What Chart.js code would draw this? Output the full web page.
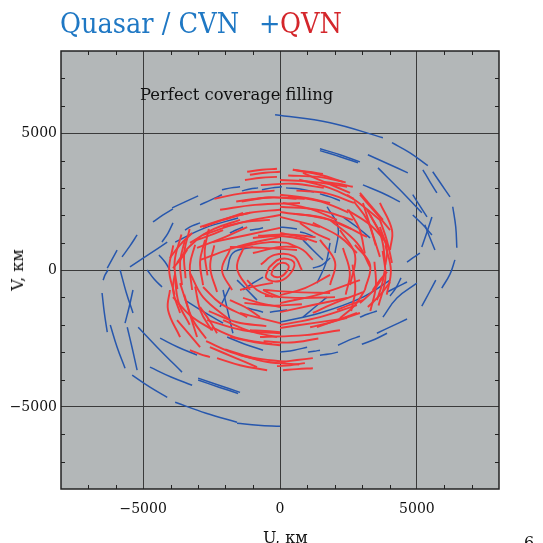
<!DOCTYPE html>
<html><head><meta charset="utf-8">
<script src="https://cdn.jsdelivr.net/npm/chart.js@4.4.0/dist/chart.umd.min.js"></script>
<style>
html,body{margin:0;padding:0;background:#fff;}
#wrap{position:relative;width:543px;height:543px;overflow:hidden;font-family:"DejaVu Serif",serif;}
canvas{position:absolute;left:0;top:0;}
.t{position:absolute;white-space:nowrap;line-height:1;}
.ttl{font-size:27px;transform:scaleX(0.95);transform-origin:0 0;}
</style></head><body>
<div id="wrap">
<canvas id="c" width="543" height="543"></canvas>
<div class="t ttl" style="left:60px;top:10px;color:#1f78c4">Quasar / CVN</div>
<div class="t ttl" style="left:259px;top:10px;color:#1f78c4">+</div>
<div class="t ttl" style="left:280px;top:10px;color:#d4262b">QVN</div>
<div class="t" style="left:140px;top:87px;font-size:16.4px;color:#111">Perfect coverage filling</div>
<div class="t" style="left:263px;top:530px;font-size:16px;color:#111">U, км</div>
<div class="t" style="left:18px;top:270px;font-size:16px;color:#111;transform:translate(-50%,-50%) rotate(-90deg)">V, км</div>
<div class="t" style="left:524px;top:535px;font-size:16px;color:#111">6</div>
</div>
<script>
// Axis ticks (km)
const majorTicks = [-5000, 0, 5000];
const majorLabels = ['\u22125000', '0', '5000'];
const minorTicks = [-7000,-6000,-4000,-3000,-2000,-1000,1000,2000,3000,4000,6000,7000];
const axisMin = -8000, axisMax = 8000;

// Quasar / CVN baselines (U, V in km)
const blueArcs = [
[[-180,5670],[1830,5380],[3760,4830]],
[[4090,4650],[4750,4280],[5400,3810]],
[[5580,3590],[5880,3150],[6210,2670]],
[[5220,3660],[5480,3220],[5730,2820]],
[[6310,2310],[6420,1570],[6460,810]],
[[6390,370],[6210,-150],[5910,-660]],
[[5690,-370],[5440,-840],[5180,-1320]],
[[3210,4210],[3940,3880],[4670,3550]],
[[1460,4430],[2190,4210],[2920,3950]],
[[1460,4360],[2190,4140],[2850,3920]],
[[3580,3730],[4380,2930],[5180,2090]],
[[3030,3110],[3720,2820],[4380,2490]],
[[4850,2750],[5110,2340],[5370,1940]],
[[4850,2010],[5220,1650],[5550,1280]],
[[5550,1940],[5370,1390],[5180,840]],
[[5290,1650],[5480,1170],[5660,730]],
[[5110,620],[4850,440],[4640,290]],
[[3760,-1720],[4270,-1020],[5000,-480]],
[[3910,-810],[4270,-620],[4640,-440]],
[[4020,-950],[4230,-660],[4420,-290]],
[[3540,-2310],[4090,-2050],[4640,-1790]],
[[2990,-2710],[3470,-2530],[3910,-2310]],
[[2120,-2750],[2520,-2560],[2920,-2420]],
[[2920,-1720],[3210,-1610],[3540,-1500]],
[[0,-3000],[510,-2930],[990,-2820]],
[[1020,-3000],[1240,-2970],[1460,-2930]],
[[1460,-3110],[1790,-3070],[2120,-3000]],
[[-2120,2930],[-1790,3000],[-1460,3040]],
[[-1390,2890],[-1100,2960],[-800,3000]],
[[-660,2930],[-290,3000],[70,3040]],
[[220,3000],[730,2960],[1240,2850]],
[[1460,2780],[1830,2670],[2190,2530]],
[[2300,1940],[2810,1570],[3290,1170]],
[[1720,2310],[2120,1570],[2010,620]],
[[1830,440],[1530,180],[1200,70]],
[[0,1570],[290,1540],[620,1500]],
[[730,1390],[990,1320],[1240,1210]],
[[-1830,1350],[-1600,1460],[-1350,1570]],
[[-1100,1460],[-800,1500],[-620,1540]],
[[840,1100],[1200,730],[1570,370]],
[[1830,990],[1680,260],[1350,-480]],
[[1720,-990],[1280,-1350],[840,-1720]],
[[-1200,-1390],[-910,-1460],[-620,-1540]],
[[-370,-1540],[-70,-1500],[260,-1460]],
[[-1930,0],[-1720,620],[-990,840]],
[[-1830,-620],[-2010,-990],[-2190,-1350]],
[[-4640,1760],[-4270,2010],[-3910,2230]],
[[-3940,2270],[-3470,2490],[-2990,2710]],
[[-2920,2380],[-2520,2560],[-2120,2750]],
[[-3470,1460],[-3210,1610],[-2920,1720]],
[[-3910,1720],[-4090,1350],[-4310,1020]],
[[-5220,1280],[-5480,880],[-5770,480]],
[[-5950,730],[-6130,400],[-6310,70]],
[[-5480,110],[-4820,550],[-4120,1020]],
[[-3830,1020],[-2740,1540],[-1530,1900]],
[[-4420,550],[-4200,290],[-4020,0]],
[[-6500,-840],[-6420,-1540],[-6310,-2270]],
[[-6200,-2010],[-5950,-2820],[-5660,-3590]],
[[-5840,0],[-5620,-810],[-5370,-1570]],
[[-5370,-730],[-5510,-1350],[-5660,-1940]],
[[-5580,-2090],[-5400,-2850],[-5220,-3660]],
[[-5400,-3840],[-4750,-4280],[-4120,-4650]],
[[-5180,-2090],[-4380,-2930],[-3580,-3730]],
[[-4750,-3550],[-3980,-3910],[-3210,-4210]],
[[-4380,-2490],[-3720,-2820],[-3030,-3110]],
[[-2990,-3950],[-2230,-4210],[-1460,-4470]],
[[-2990,-4020],[-2230,-4280],[-1530,-4510]],
[[-3830,-4830],[-2700,-5230],[-1570,-5560]],
[[-1570,-5600],[-800,-5670],[0,-5710]],
[[-3470,-1100],[-2770,-1540],[-2080,-1940]],
[[-1930,-2450],[-1280,-2710],[-620,-2930]],
[[-2080,-730],[-1900,-1540],[-1720,-2310]],
[[-620,-260],[-990,-480],[-1350,-730]],
[[-4850,0],[-4600,-330],[-4310,-620]],
[[-6460,-370],[-6390,-180],[-6280,0]],
[[0,-1900],[1460,-1570],[3030,-990],[4020,-370]],
[[-840,-1100],[-1200,-730],[-1570,-370]]
];

// QVN baselines (U, V in km)
const redArcs = [
[[-1200,3590],[-660,3660],[-110,3700]],
[[-1280,3290],[-690,3370],[-110,3400]],
[[-1100,3480],[-550,3550],[0,3590]],
[[470,3660],[1020,3590],[1570,3510]],
[[0,3290],[1200,3220],[2450,3040]],
[[1570,3220],[2120,3150],[2660,3040]],
[[2450,2750],[3030,2340],[3650,1830]],
[[2920,2750],[3470,2120],[4020,1460]],
[[3180,2200],[3610,1460],[4020,730]],
[[3650,1830],[3910,1060],[4090,260]],
[[-2080,1830],[-1100,2090],[0,2200]],
[[-3290,990],[-2410,1500],[-1460,1830]],
[[-3760,260],[-3390,770],[-2920,1210]],
[[-2190,2200],[-910,2380],[730,2450]],
[[-2920,1570],[-2010,1870],[-1100,2090]],
[[-4020,440],[-3650,920],[-3210,1350]],
[[0,2310],[1350,2200],[2660,1830]],
[[0,2120],[1830,1830],[3180,1210]],
[[2450,2200],[3290,1650],[3910,990]],
[[1830,1830],[2810,990],[3290,110]],
[[3650,1570],[3910,730],[3830,110]],
[[0,1350],[730,1210],[1350,1020]],
[[260,990],[840,730],[1200,370]],
[[1200,1720],[2190,1210],[2810,620]],
[[-400,100],[0,400],[500,300],[400,-100],[0,-400],[-500,-300],[-400,100]],
[[-250,50],[0,250],[300,180],[250,-50],[0,-250],[-300,-180],[-250,50]],
[[-700,200],[-200,550],[500,500],[800,0]],
[[-990,620],[0,840],[620,840]],
[[-1460,-730],[-840,-580],[-260,-470]],
[[-620,-730],[620,-810],[1830,-840]],
[[-550,-950],[730,-1020],[2010,-990]],
[[3830,0],[3720,-550],[3540,-1100]],
[[0,-920],[910,-660],[1830,-180]],
[[0,-1210],[1460,-880],[2920,-370]],
[[0,-1540],[1200,-1280],[2450,-1020]],
[[0,-2010],[1460,-1720],[2810,-1280]],
[[0,-2120],[1200,-1940],[2450,-1760]],
[[1200,-1570],[1930,-1240],[3030,-810]],
[[0,-3370],[620,-3290],[1200,-3220]],
[[110,-3660],[620,-3620],[1200,-3590]],
[[-110,-3510],[370,-3480],[910,-3400]],
[[-4020,-730],[-4090,-1460],[-3650,-2450]],
[[-3760,-1830],[-3290,-2380],[-2920,-2820]],
[[-3650,-480],[-3340,-1460],[-3030,-2450]],
[[-3290,-2930],[-2920,-3070],[-2560,-3180]],
[[-2560,-2820],[-1680,-3190],[-840,-3550]],
[[-2300,-3220],[-1460,-3480],[-470,-3660]],
[[-2920,-1350],[-2560,-1870],[-2300,-2310]],
[[-2080,-1830],[-1100,-2230],[-110,-2450]],
[[-1830,-2450],[-910,-2640],[0,-2750]],
[[-1100,-2200],[-550,-2230],[0,-2270]],
[[-620,-730],[-290,-880],[0,-990]],
[[-1460,-1570],[-730,-1760],[0,-1940]],
[[-1830,-1100],[-1280,-1350],[-730,-1720]],
[[-3910,70],[-3650,370],[-3390,730]],
[[-2810,1570],[-2080,1830],[-1350,2090]],
[[-3030,1100],[-2520,1280],[-2080,1460]],
[[-2080,1570],[-1280,1760],[-370,1830]],
[[-3470,1100],[-3650,290],[-3580,-550]],
[[-3100,920],[-3290,180],[-3210,-730]],
[[-2740,1100],[-2920,290],[-2810,-550]],
[[-1830,730],[-2120,0],[-1750,-730]],
[[-1280,920],[-1570,70],[-1100,-730]],
[[1460,1100],[2010,290],[1830,-550]],
[[2190,1460],[2740,550],[2560,-550]],
[[2740,920],[3290,180],[3100,-730]],
[[3100,-730],[2740,-1280],[2190,-1760]],
[[-1570,840],[-370,1020],[260,990]],
[[-990,1170],[0,1240],[990,1100]],
[[3760,-260],[3390,-770],[2920,-1210]],
[[2920,-1570],[2010,-1870],[1100,-2090]],
[[4020,-440],[3650,-920],[3210,-1350]],
[[3910,-70],[3650,-370],[3390,-730]],
[[2810,-1570],[2080,-1830],[1350,-2090]],
[[3030,-1100],[2520,-1280],[2080,-1460]],
[[2190,-2200],[910,-2380],[-730,-2450]],
[[0,-2310],[-1350,-2200],[-2660,-1830]],
[[-1830,-1830],[-2810,-990],[-3290,-110]],
[[-2450,-2200],[-3290,-1650],[-3910,-990]],
[[-3650,-1570],[-3910,-730],[-3830,-110]],
[[0,-1350],[-730,-1210],[-1350,-1020]],
[[-260,-990],[-840,-730],[-1200,-370]],
[[-1200,-1720],[-2190,-1210],[-2810,-620]],
[[4020,730],[4090,1460],[3650,2450]],
[[3760,1830],[3290,2380],[2920,2820]],
[[3650,480],[3340,1460],[3030,2450]],
[[2560,2820],[1680,3190],[840,3550]],
[[2300,3220],[1460,3480],[470,3660]],
[[2080,1830],[1100,2230],[110,2450]],
[[1830,2450],[910,2640],[0,2750]],
[[1460,1570],[730,1760],[0,1940]],
[[1830,1100],[1280,1350],[730,1720]],
[[620,730],[-620,810],[-1830,840]],
[[0,1210],[-1460,880],[-2920,370]],
[[0,1540],[-1200,1280],[-2450,1020]],
[[0,2010],[-1460,1720],[-2810,1280]],
[[-1200,1570],[-1930,1240],[-3030,810]],
[[-3900,900],[-4050,0],[-3850,-900]],
[[-3600,1300],[-3850,300],[-3750,-700]],
[[-3300,1500],[-3500,600],[-3450,-300]],
[[-2600,1500],[-2750,700],[-2650,-200]],
[[-2400,900],[-2550,100],[-2300,-800]],
[[-3850,-200],[-3700,-1200],[-3300,-2000]],
[[-3500,-900],[-3200,-1800],[-2700,-2500]],
[[-3100,-600],[-2900,-1500],[-2500,-2200]],
[[-2700,-2600],[-1800,-3000],[-700,-3300]],
[[-2000,-2900],[-1000,-3200],[200,-3350]],
[[-1500,-3100],[-500,-3350],[700,-3450]],
[[-600,-2600],[400,-2650],[1400,-2500]],
[[-2500,-2100],[-1500,-2500],[-300,-2700]],
[[-2400,2600],[-1400,2800],[-200,2900]],
[[-1600,2500],[-400,2650],[900,2600]],
[[600,2900],[1700,2800],[2700,2450]],
[[-700,3100],[500,3150],[1600,3000]],
[[300,3450],[1400,3400],[2400,3200]],
[[3900,-900],[4050,0],[3850,900]],
[[3600,-1300],[3850,-300],[3750,700]],
[[3300,-1500],[3500,-600],[3450,300]],
[[2600,-1500],[2750,-700],[2650,200]],
[[2400,-900],[2550,-100],[2300,800]],
[[3850,200],[3700,1200],[3300,2000]],
[[3500,900],[3200,1800],[2700,2500]],
[[3100,600],[2900,1500],[2500,2200]],
[[2700,2600],[1800,3000],[700,3300]],
[[2500,2100],[1500,2500],[300,2700]],
[[600,2600],[-400,2650],[-1400,2500]],
[[-2600,-1500],[-1600,-1900],[-500,-2050]],
[[2600,1500],[1600,1900],[500,2050]],
[[-1300,-1200],[-300,-1300],[800,-1250]],
[[1300,1200],[300,1300],[-800,1250]]
];

const BLUE = '#2757ad';
const RED = '#f2383a';
const BG = '#b3b7b8';
const FONT = {family:'DejaVu Serif', size:14};

const datasets = [];
redArcs.forEach(a => datasets.push({
  data: a.map(p => ({x:p[0], y:p[1]})), showLine:true, borderColor:RED,
  borderWidth:1.9, pointRadius:0, tension:0.4, fill:false
}));
blueArcs.forEach(a => datasets.push({
  data: a.map(p => ({x:p[0], y:p[1]})), showLine:true, borderColor:BLUE,
  borderWidth:1.5, pointRadius:0, tension:0.4, fill:false
}));

const framePlugin = {
  id:'frame',
  beforeDraw(chart){
    const {ctx, chartArea:a} = chart;
    ctx.save(); ctx.fillStyle = BG;
    ctx.fillRect(a.left, a.top, a.right-a.left, a.bottom-a.top);
    ctx.restore();
  },
  afterDraw(chart){
    const {ctx, chartArea:a, scales:{x, y}} = chart;
    ctx.save();
    ctx.strokeStyle = '#222'; ctx.lineWidth = 1;
    ctx.beginPath();
    minorTicks.forEach(v => {
      const px = Math.round(x.getPixelForValue(v)) + 0.5;
      ctx.moveTo(px, a.bottom); ctx.lineTo(px, a.bottom-4);
      ctx.moveTo(px, a.top); ctx.lineTo(px, a.top+4);
      const py = Math.round(y.getPixelForValue(v)) + 0.5;
      ctx.moveTo(a.left, py); ctx.lineTo(a.left+4, py);
      ctx.moveTo(a.right, py); ctx.lineTo(a.right-4, py);
    });
    ctx.stroke();
    ctx.lineWidth = 1.5;
    ctx.strokeRect(a.left, a.top, a.right-a.left, a.bottom-a.top);
    ctx.restore();
  }
};

function axis(isX){
  return {
    type:'linear', min:axisMin, max:axisMax,
    afterBuildTicks: s => { s.ticks = majorTicks.map(v => ({value:v})); },
    afterFit: s => { if (isX) s.height = 54; else s.width = 61; },
    grid:{color:'#3a3a3a', lineWidth:1, drawTicks:false},
    border:{display:false},
    ticks:{padding: isX ? 12 : 4, font:FONT, color:'#111', maxRotation:0, autoSkip:false,
      callback:(v, i) => majorLabels[i]}
  };
}

new Chart(document.getElementById('c'), {
  type:'scatter',
  data:{datasets},
  options:{
    responsive:false, animation:false, events:[],
    layout:{padding:{top:51, right:44, left:0, bottom:0}},
    plugins:{legend:{display:false}, tooltip:{enabled:false}, title:{display:false}},
    scales:{x:axis(true), y:axis(false)}
  },
  plugins:[framePlugin]
});
</script>
</body></html>
